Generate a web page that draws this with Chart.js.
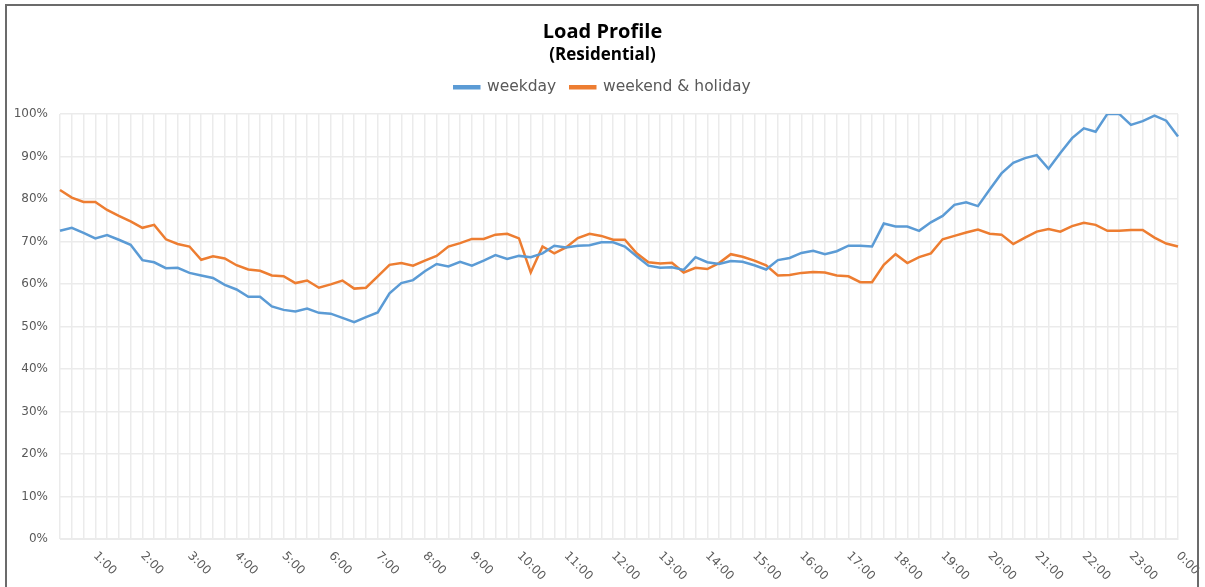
<!DOCTYPE html>
<html>
<head>
<meta charset="utf-8">
<script src="https://cdn.jsdelivr.net/npm/chart.js@4.4.1/dist/chart.umd.min.js"></script>
<style>
  html, body { margin: 0; padding: 0; background: #fff; }
  #wrap { position: relative; width: 1205px; height: 587px; overflow: hidden; }
  #frame { position: absolute; left: 5px; top: 4px; width: 1194px; height: 620px; border: 2px solid #6b6b6b; box-sizing: border-box; pointer-events: none; }
  canvas { position: absolute; left: 0; top: 0; }
</style>
</head>
<body>
<div id="wrap">
  <canvas id="chart" width="1205" height="587"></canvas>
  <div id="frame"></div>
</div>
<script>
// 15-minute steps, 0:15 ... 23:45, 0:00
const timeLabels = [];
for (let h = 0; h < 24; h++) {
    for (let q = 1; q <= 4; q++) {
        const hh = q === 4 ? (h + 1) % 24 : h;
        const mm = q === 4 ? "00" : String(q * 15);
        timeLabels.push(hh + ":" + mm);
    }
}

const weekday = [
    72.5, 73.2, 72.0, 70.7, 71.5, 70.4, 69.2, 65.6, 65.1, 63.7, 63.8, 62.6,
    62.0, 61.4, 59.8, 58.7, 57.0, 57.0, 54.7, 53.9, 53.5, 54.2, 53.2, 53.0,
    52.0, 51.0, 52.2, 53.3, 57.8, 60.2, 60.9, 63.0, 64.7, 64.1, 65.2, 64.3,
    65.5, 66.8, 65.9, 66.6, 66.3, 67.2, 69.0, 68.6, 69.0, 69.1, 69.8, 69.8,
    68.8, 66.5, 64.3, 63.8, 63.9, 63.3, 66.3, 65.1, 64.7, 65.4, 65.2, 64.4,
    63.4, 65.6, 66.1, 67.3, 67.8, 67.0, 67.7, 69.0, 69.0, 68.8, 74.2, 73.5,
    73.5, 72.5, 74.5, 76.0, 78.6, 79.2, 78.3, 82.2, 86.0, 88.5, 89.6, 90.3,
    87.1, 90.8, 94.3, 96.6, 95.8, 100, 100, 97.4, 98.3, 99.6, 98.4, 94.7
];

const weekendHoliday = [
    82.1, 80.3, 79.3, 79.3, 77.4, 76.0, 74.7, 73.2, 73.9, 70.5, 69.4, 68.8,
    65.7, 66.5, 66.0, 64.4, 63.4, 63.1, 62.0, 61.8, 60.2, 60.8, 59.1, 59.9,
    60.8, 58.9, 59.1, 61.8, 64.5, 64.9, 64.3, 65.5, 66.6, 68.8, 69.6, 70.6,
    70.6, 71.6, 71.8, 70.7, 62.7, 68.8, 67.2, 68.6, 70.8, 71.8, 71.3, 70.4,
    70.4, 67.2, 65.1, 64.8, 65.0, 62.7, 63.8, 63.5, 64.9, 67.0, 66.4, 65.5,
    64.4, 62.0, 62.1, 62.6, 62.8, 62.7, 62.0, 61.8, 60.4, 60.4, 64.5, 67.0,
    64.9, 66.3, 67.2, 70.5, 71.3, 72.1, 72.8, 71.8, 71.6, 69.4, 70.9, 72.3,
    72.9, 72.3, 73.6, 74.4, 73.9, 72.5, 72.5, 72.7, 72.7, 70.9, 69.5, 68.8
];

const FONT = "'DejaVu Sans', sans-serif";
const TITLE_FONT = "'Open Sans', sans-serif";
const TEXT_COLOR = "#595959";
const GRID_COLOR = "#ebebeb";

// x labels are drawn slanted down-right, like the original, only on full hours
const hourLabels = {
    id: "hourLabels",
    afterDraw(chart) {
        const xs = chart.scales.x;
        const ctx = chart.ctx;
        ctx.save();
        ctx.font = "12px " + FONT;
        ctx.fillStyle = TEXT_COLOR;
        ctx.textAlign = "left";
        ctx.textBaseline = "middle";
        timeLabels.forEach((lab, i) => {
            if (!lab.endsWith(":00")) return;
            const x = xs.getPixelForValue(i);
            ctx.save();
            ctx.translate(x, xs.bottom + 15);
            ctx.rotate(Math.PI / 4);
            ctx.fillText(lab, 0, 0);
            ctx.restore();
        });
        ctx.restore();
    }
};

new Chart(document.getElementById("chart"), {
    type: "line",
    data: {
        labels: timeLabels,
        datasets: [
            {
                label: "weekday",
                data: weekday,
                borderColor: "#5b9bd5",
                backgroundColor: "#5b9bd5",
                borderWidth: 2.5,
                pointRadius: 0,
                tension: 0
            },
            {
                label: "weekend & holiday",
                data: weekendHoliday,
                borderColor: "#ed7d31",
                backgroundColor: "#ed7d31",
                borderWidth: 2.5,
                pointRadius: 0,
                tension: 0
            }
        ]
    },
    options: {
        responsive: false,
        animation: false,
        layout: { padding: { left: 0, right: 0, top: 20, bottom: 48 } },
        plugins: {
            title: {
                display: true,
                text: "Load Profile",
                color: "#000",
                font: { family: TITLE_FONT, size: 20, weight: "bold" },
                padding: { top: 0, bottom: 1 }
            },
            subtitle: {
                display: true,
                text: "(Residential)",
                color: "#000",
                font: { family: TITLE_FONT, size: 17, weight: "bold" },
                padding: { top: 0, bottom: 0 }
            },
            legend: {
                position: "top",
                labels: {
                    color: TEXT_COLOR,
                    font: { family: FONT, size: 15.5 },
                    boxWidth: 25,
                    boxHeight: 2,
                    padding: 14
                }
            },
            tooltip: { enabled: false }
        },
        scales: {
            x: {
                offset: false,
                grid: { color: GRID_COLOR, lineWidth: 1.5, drawTicks: false },
                border: { color: GRID_COLOR },
                ticks: { display: false }
            },
            // empty strip between legend and plot
            gap: {
                type: "category",
                position: "top",
                afterFit(scale) { scale.height = 9; },
                grid: { display: false },
                border: { display: false },
                ticks: { display: false }
            },
            y: {
                min: 0,
                max: 100,
                afterFit(scale) { scale.width = 60; },
                grid: { color: GRID_COLOR, lineWidth: 1.5, drawTicks: false },
                border: { display: false },
                ticks: {
                    stepSize: 10,
                    padding: 12,
                    color: TEXT_COLOR,
                    font: { family: FONT, size: 12 },
                    callback: v => v + "%"
                }
            },
            // empty strip on the right so titles center on the whole frame
            side: {
                type: "linear",
                position: "right",
                afterFit(scale) { scale.width = 27; },
                grid: { display: false },
                border: { display: false },
                ticks: { display: false }
            }
        }
    },
    plugins: [hourLabels]
});
</script>
</body>
</html>
